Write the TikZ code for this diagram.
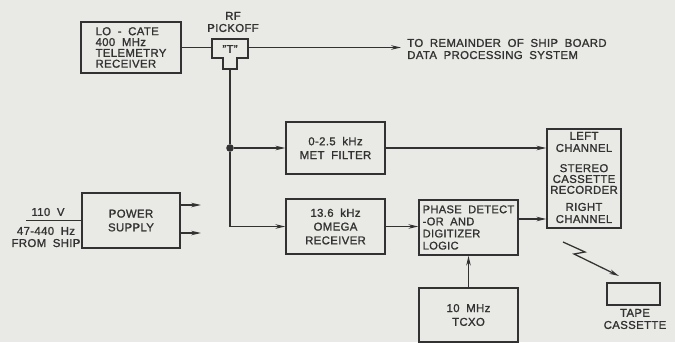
\documentclass[tikz,border=0pt]{standalone}
\usepackage{fontspec}
\setmainfont{Liberation Sans}[LetterSpace=3,WordSpace=1.9,FakeBold=1.2]
\usetikzlibrary{arrows.meta}
\definecolor{paper}{RGB}{233,233,229}
\definecolor{ink}{RGB}{50,50,50}
\begin{document}
\begin{tikzpicture}[x=0.025cm,y=-0.025cm]
    \tikzstyle{box}=[draw=ink,line width=1pt,inner sep=2pt,text=ink,
        align=center,font=\fontsize{8.1}{9.8}\selectfont]
    \tikzstyle{lbl}=[text=ink,inner sep=0pt,font=\fontsize{8.1}{8.6}\selectfont]
    \tikzstyle{wire}=[draw=ink,line width=0.9pt]
    \tikzstyle{arr}=[wire,-{Stealth[length=7pt,width=3.2pt]}]
    \fill[paper] (0,0) rectangle (675,342);
    \useasboundingbox (0,0) rectangle (675,342);
    % Blocks
    \node[box,minimum width=2.5cm,minimum height=1.275cm,align=left,
        font=\fontsize{8.1}{7.7}\selectfont] (loc) at (131,47.5)
        {LO - CATE\\400 MHz\\TELEMETRY\\RECEIVER};
    \node[box,minimum width=2.475cm,minimum height=1.3cm] (met) at (335.5,148)
        {0-2.5 kHz\\MET FILTER};
    \node[box,minimum width=2.475cm,minimum height=1.375cm] (omega) at (335.5,226.5)
        {13.6 kHz\\OMEGA\\RECEIVER};
    \node[box,minimum width=2.475cm,minimum height=1.375cm,align=left,inner sep=1pt,
        font=\fontsize{7.9}{8.6}\selectfont] (phase) at (468.5,227.5)
        {PHASE DETECT\\-OR AND\\DIGITIZER\\LOGIC};
    \node[box,minimum width=2.475cm,minimum height=1.35cm] (tcxo) at (468.5,315)
        {10 MHz\\TCXO};
    \node[box,minimum width=2.45cm,minimum height=1.375cm] (power) at (131,220.5)
        {POWER\\SUPPLY};
    \node[box,minimum width=1.85cm,minimum height=2.475cm] (rec) at (584,178.5) {};
    \node[lbl,align=center] (left) at (584,142) {LEFT\\CHANNEL};
    \node[lbl,align=center,font=\fontsize{8.1}{7.7}\selectfont] (stereo) at (584,179)
        {STEREO\\CASSETTE\\RECORDER};
    \node[lbl,align=center] (right) at (584,213) {RIGHT\\CHANNEL};
    \node[box,minimum width=1.325cm,minimum height=0.55cm] (tape) at (633.5,294) {};
    \node[lbl,align=center] (tapelbl) at (635,319) {TAPE\\CASSETTE};
    % RF pickoff
    \draw[ink,line width=1pt] (212,39) -- (248,39) -- (248,58) -- (237,58)
        -- (237,69) -- (223,69) -- (223,58) -- (212,58) -- cycle;
    \node[lbl] (tee) at (230,49) {"T"};
    \node[lbl,align=center] (rf) at (233,22) {RF\\PICKOFF};
    \coordinate (teeW) at (212,47.5);
    \coordinate (teeE) at (248,47.5);
    \coordinate (teeS) at (230,69);
    \coordinate (out) at (401,47.5);
    \node[lbl,anchor=west,align=left] (outlbl) at (407,49)
        {TO REMAINDER OF SHIP BOARD\\DATA PROCESSING SYSTEM};
    \node[circle,fill=ink,inner sep=0pt,minimum size=0.19cm] (jn) at (230,148) {};
    % Lines
    \draw[wire] (loc.east) -- (teeW);
    \draw[arr] (teeE) -- (out);
    \draw[wire] (teeS) -- (jn);
    \draw[arr] (jn) -- (met.west);
    \draw[arr] (jn) |- (omega.west);
    \draw[arr] (met.east) -- (met.east -| rec.west);
    \draw[arr] (omega.east) -- (omega.east -| phase.west);
    \draw[arr] (phase.east |- 0,219) -- (rec.west |- 0,219);
    \draw[arr] (tcxo.north) -- (phase.south);
    % Power in and out
    \coordinate (in) at (26,220.5);
    \coordinate (pwrA) at (201,205);
    \coordinate (pwrB) at (201,233);
    \draw[wire] (in) -- (power.west);
    \draw[arr] (power.east |- pwrA) -- (pwrA);
    \draw[arr] (power.east |- pwrB) -- (pwrB);
    \node[lbl] (volt) at (48,212) {110 V};
    \node[lbl,align=center] (freq) at (46,237) {47-440 Hz\\FROM SHIP};
    % Tape link
    \draw[arr] (563,242) -- (585,252) -- (574,254) -- (619,276);
\end{tikzpicture}
\end{document}
